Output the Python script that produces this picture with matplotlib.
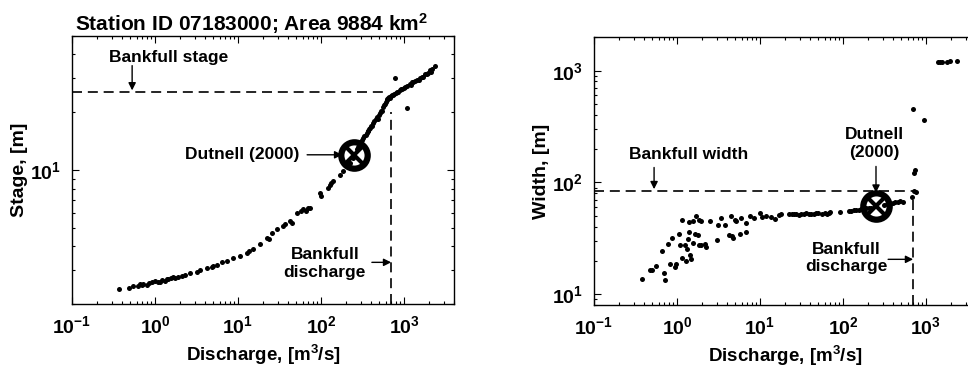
import numpy as np
import matplotlib
matplotlib.use('Agg')
from matplotlib import pyplot as plt
from matplotlib.ticker import LogLocator, NullFormatter

plt.rcParams['font.family'] = ['Liberation Sans', 'DejaVu Sans']
plt.rcParams['font.weight'] = 'bold'
plt.rcParams['axes.labelweight'] = 'bold'
plt.rcParams['axes.titleweight'] = 'bold'
plt.rcParams['mathtext.fontset'] = 'custom'
plt.rcParams['mathtext.rm'] = 'Liberation Sans:bold'
plt.rcParams['mathtext.bf'] = 'Liberation Sans:bold'
plt.rcParams['mathtext.default'] = 'bf'

# stage-discharge pairs (m3/s, m)
q_stage = [0.37, 0.48, 0.55, 0.69, 0.72, 0.79, 0.91, 1.0, 1.15, 1.32, 1.45, 1.66,
           1.91, 2.1, 2.64, 3.18, 3.48, 4.19, 4.82, 5.53, 6.36, 7.3, 8.79, 10.6,
           12.7, 15.3, 18.4, 22.1, 25.5, 29.2, 35.2, 42.4, 50.9, 61.3, 73.7, 97.3,
           128, 141, 169, 186, 224, 240, 275, 309, 330, 355, 390, 427, 460, 514,
           560, 618, 650, 700, 743, 800, 895, 1000, 1180, 1350, 1560, 1800, 2060,
           2360, 780, 1077, 0.62, 0.85, 1.2, 1.55, 2.3, 5.0, 13.5, 23.5, 45.0,
           66.0, 100, 133, 290, 370, 410, 480, 540, 590, 680, 760, 850, 950, 1100,
           1250, 1450, 1650, 1950, 2200, 280, 300, 320, 345, 365, 380, 400, 440,
           470, 500, 530, 575, 600, 630, 665, 720, 820, 920, 1020, 1200, 1300,
           1500, 1700, 1900, 2100, 0.66, 1.1, 1.4, 1.75, 37.0, 58.0, 70.0, 120]
stage = [2.40, 2.42, 2.48, 2.50, 2.55, 2.52, 2.60, 2.65, 2.62, 2.65, 2.70, 2.76,
         2.76, 2.79, 2.90, 2.95, 3.00, 3.07, 3.13, 3.21, 3.30, 3.36, 3.46, 3.57,
         3.71, 3.86, 4.10, 4.44, 4.72, 4.91, 5.11, 5.42, 5.98, 6.23, 6.36, 7.60,
         8.40, 8.74, 9.47, 9.84, 10.9, 11.5, 12.9, 14.4, 15.0, 15.6, 16.6, 17.5,
         18.5, 19.7, 21.2, 23.1, 23.8, 24.2, 24.5, 25.3, 26.1, 26.8, 28.2, 29.0,
         30.0, 31.5, 33.1, 34.7, 30.2, 21.1, 2.47, 2.58, 2.66, 2.73, 2.82, 3.16,
         3.76, 4.35, 5.30, 6.10, 7.30, 8.55, 13.3, 15.9, 17.0, 18.4, 20.2, 22.2,
         23.6, 24.9, 25.6, 26.4, 27.5, 28.6, 29.6, 30.6, 32.2, 33.6, 13.2, 13.8,
         14.6, 15.3, 16.0, 16.4, 17.0, 17.9, 18.8, 19.3, 20.3, 21.8, 22.6, 23.4,
         23.9, 24.6, 25.5, 26.4, 27.1, 27.9, 28.6, 29.6, 30.6, 31.8, 32.6, 2.55,
         2.60, 2.70, 2.75, 5.20, 6.10, 6.30, 8.10]

# width-discharge pairs (m3/s, m)
q_width = [0.38, 0.47, 0.50, 0.56, 0.66, 0.70, 0.72, 0.79, 0.82, 0.86, 0.95, 0.97,
           1.07, 1.08, 1.14, 1.15, 1.26, 1.28, 1.31, 1.34, 1.38, 1.38, 1.43, 1.47,
           1.54, 1.58, 1.66, 1.69, 1.77, 1.82, 1.85, 1.94, 1.94, 2.15, 2.23, 2.51,
           3.05, 3.16, 3.41, 3.74, 4.24, 4.44, 4.57, 4.78, 5.01, 5.2, 5.75, 5.86,
           6.74, 6.74, 7.51, 8.44, 10.0, 10.7, 11.9, 13.4, 15.1, 16.9, 17.7, 22.3,
           25.6, 29.5, 33.8, 38.8, 44.4, 50.0, 55.9, 64.1, 70.4, 92.9, 117, 134,
           154, 177, 204, 309, 370, 424, 487, 673, 718, 752, 724, 738, 707, 955,
           1406, 1470, 1540, 1770, 1940, 2333, 24.0, 27.5, 31.5, 36.0, 41.5, 47.0,
           60.0, 67.0, 125, 145, 165, 190, 220, 340, 400, 455, 530]
width = [13.8, 16.5, 16.5, 17.9, 24.3, 15.4, 13.3, 28.3, 18.5, 31.9, 17.5, 18.8,
         34.2, 27.5, 45.9, 21.2, 27.3, 19.8, 25.2, 30.9, 36.1, 44.0, 22.2, 20.7,
         45.6, 28.8, 34.2, 50.5, 33.5, 27.3, 46.5, 45.0, 27.3, 27.9, 26.3, 45.6,
         30.7, 41.7, 48.1, 41.4, 34.0, 49.8, 33.0, 32.1, 46.5, 45.0, 34.6, 48.1,
         36.1, 43.5, 49.8, 48.1, 53.0, 49.1, 50.5, 49.1, 47.2, 50.8, 52.6, 52.6,
         52.2, 51.5, 52.6, 52.6, 52.2, 53.3, 52.2, 52.6, 54.0, 54.8, 55.2, 56.3,
         57.1, 58.2, 59.0, 63.3, 64.6, 66.4, 67.7, 74.0, 83.2, 81.4, 121, 128,
         450, 361, 1194, 1190, 1200, 1195, 1208, 1230, 52.0, 52.4, 52.0, 52.8,
         52.4, 52.9, 53.2, 53.6, 55.8, 56.6, 57.6, 58.5, 59.6, 64.0, 65.5, 67.0,
         67.2]

# Dutnell (2000) point and bankfull values
q_dut = 250
stage_dut = 12.0
width_dut = 61
q_bf = 700
stage_bf = 25.4
width_bf = 83

fig = plt.figure(figsize=(9.68, 3.74), dpi=100)
ax1 = fig.add_axes([0.0744, 0.187, 0.3946, 0.717])
ax2 = fig.add_axes([0.6136, 0.1845, 0.3946, 0.7165])


def style(ax):
    ax.set_xscale('log')
    ax.set_yscale('log')
    ax.set_xlim(0.1, 4000)
    ax.xaxis.set_major_locator(LogLocator(base=10, numticks=10))
    ax.xaxis.set_minor_locator(LogLocator(base=10, subs=np.arange(2, 10), numticks=20))
    ax.xaxis.set_minor_formatter(NullFormatter())
    ax.yaxis.set_minor_formatter(NullFormatter())
    ax.tick_params(which='both', direction='in', top=True, right=True,
                   labelsize=14, width=0.8)
    ax.tick_params(which='major', length=5, pad=8)
    ax.tick_params(which='minor', length=2.5)
    for s in ax.spines.values():
        s.set_linewidth(1.0)
    ax.set_xlabel('Discharge, [m$^3$/s]', fontsize=13.5, labelpad=4)


arrow = dict(arrowstyle='-|>', color='k', lw=1.0, mutation_scale=11,
             shrinkA=0, shrinkB=0)
txt = dict(fontsize=12.5, fontweight='bold', ha='center', va='center')

# stage plot
style(ax1)
ax1.set_ylim(2, 50)
ax1.plot(q_stage, stage, 'o', color='k', ms=3.6, mew=0)
ax1.plot([0.1, 560], [stage_bf, stage_bf], 'k--', lw=1.2, dashes=(6, 3.5))
ax1.plot([q_bf, q_bf], [2, 20], 'k--', lw=1.2, dashes=(6, 3.5))
ax1.plot(q_dut, stage_dut, 'o', mfc='none', mec='k', ms=19, mew=4.5)
ax1.plot(q_dut, stage_dut, 'x', color='k', ms=11, mew=3)
ax1.set_ylabel('Stage, [m]', fontsize=14, labelpad=1)
ax1.set_title('Station ID 07183000; Area 9884 km$^2$', fontsize=15, x=0.47, pad=3)
ax1.text(1.47, 38.5, 'Bankfull stage', **txt)
ax1.annotate('', xy=(0.53, 26.0), xytext=(0.53, 35.0), arrowprops=arrow)
ax1.text(11.2, 12.0, 'Dutnell (2000)', **txt)
ax1.annotate('', xy=(180, 12.0), xytext=(68, 12.0), arrowprops=arrow)
ax1.text(111, 3.26, 'Bankfull\ndischarge', linespacing=1.2, **txt)
ax1.annotate('', xy=(q_bf, 3.3), xytext=(410, 3.3), arrowprops=arrow)

# width plot
style(ax2)
ax2.set_ylim(8, 2000)
ax2.plot(q_width, width, 'o', color='k', ms=3.6, mew=0)
ax2.plot([0.1, 700], [width_bf, width_bf], 'k--', lw=1.2, dashes=(6, 3.5))
ax2.plot([q_bf, q_bf], [8, 75], 'k--', lw=1.2, dashes=(6, 3.5))
ax2.plot(q_dut, width_dut, 'o', mfc='none', mec='k', ms=19, mew=4.5)
ax2.plot(q_dut, width_dut, 'x', color='k', ms=11, mew=3)
ax2.set_ylabel('Width, [m]', fontsize=14, labelpad=1)
ax2.text(1.39, 178, 'Bankfull width', **txt)
ax2.annotate('', xy=(0.53, 87), xytext=(0.53, 136), arrowprops=arrow)
ax2.text(238, 223, 'Dutnell\n(2000)', linespacing=1.2, **txt)
ax2.annotate('', xy=(q_dut, 81), xytext=(q_dut, 139), arrowprops=arrow)
ax2.text(110, 21.0, 'Bankfull\ndischarge', linespacing=1.2, **txt)
ax2.annotate('', xy=(q_bf, 20.5), xytext=(350, 20.5), arrowprops=arrow)

plt.savefig('out.png', dpi=100)
